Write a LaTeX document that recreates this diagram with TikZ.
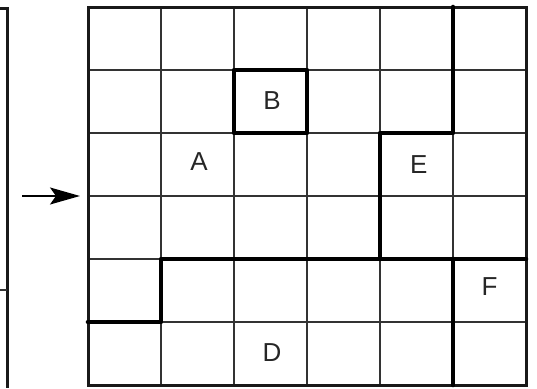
\documentclass[tikz,border=0pt]{standalone}
\usepackage{fontspec}
\setmainfont{Liberation Sans}
\usetikzlibrary{arrows.meta}

\begin{document}
\begin{tikzpicture}[x=1pt, y=-1pt, font=\fontsize{26}{28}\selectfont,
  gridline/.style={line width=1.8pt, black!80},
  border/.style={line width=3pt, black!90},
  wall/.style={line width=4.6pt, black, line cap=round, line join=round},
  cell/.style={text=black!85, inner sep=0pt}]
\useasboundingbox (0,0) rectangle (537,388);
% edge of the board on the left
\draw[border] (0,8) -- (7,8) -- (7,388);
\draw[gridline] (0,290) -- (7,290);
% arrow
\coordinate (from) at (22,196);
\coordinate (to) at (80,196);
\draw[line width=2pt, -{Stealth[length=30pt, width=17pt, inset=6pt]}] (from) -- (to);
\begin{scope}[shift={(88,7)}, x=73pt, y=-63pt]
% grid
\foreach \i in {1,...,5} {
  \draw[gridline] (\i,0) -- (\i,6);
  \draw[gridline] (0,\i) -- (6,\i);
}
\draw[border] (0,0) rectangle (6,6);
% walls
\draw[wall] (2,1) rectangle (3,2);
\draw[wall] (5,0) -- (5,2) -- (4,2) -- (4,4);
\draw[wall] (6,4) -- (1,4) -- (1,5) -- (0,5);
\draw[wall] (5,4) -- (5,6);
% rooms
\node[cell] (A) at (1.52,2.45) {A};
\node[cell] (B) at (2.52,1.48) {B};
\node[cell] (E) at (4.53,2.5) {E};
\node[cell] (F) at (5.5,4.44) {F};
\node[cell] (D) at (2.52,5.48) {D};
\end{scope}
\end{tikzpicture}
\end{document}
